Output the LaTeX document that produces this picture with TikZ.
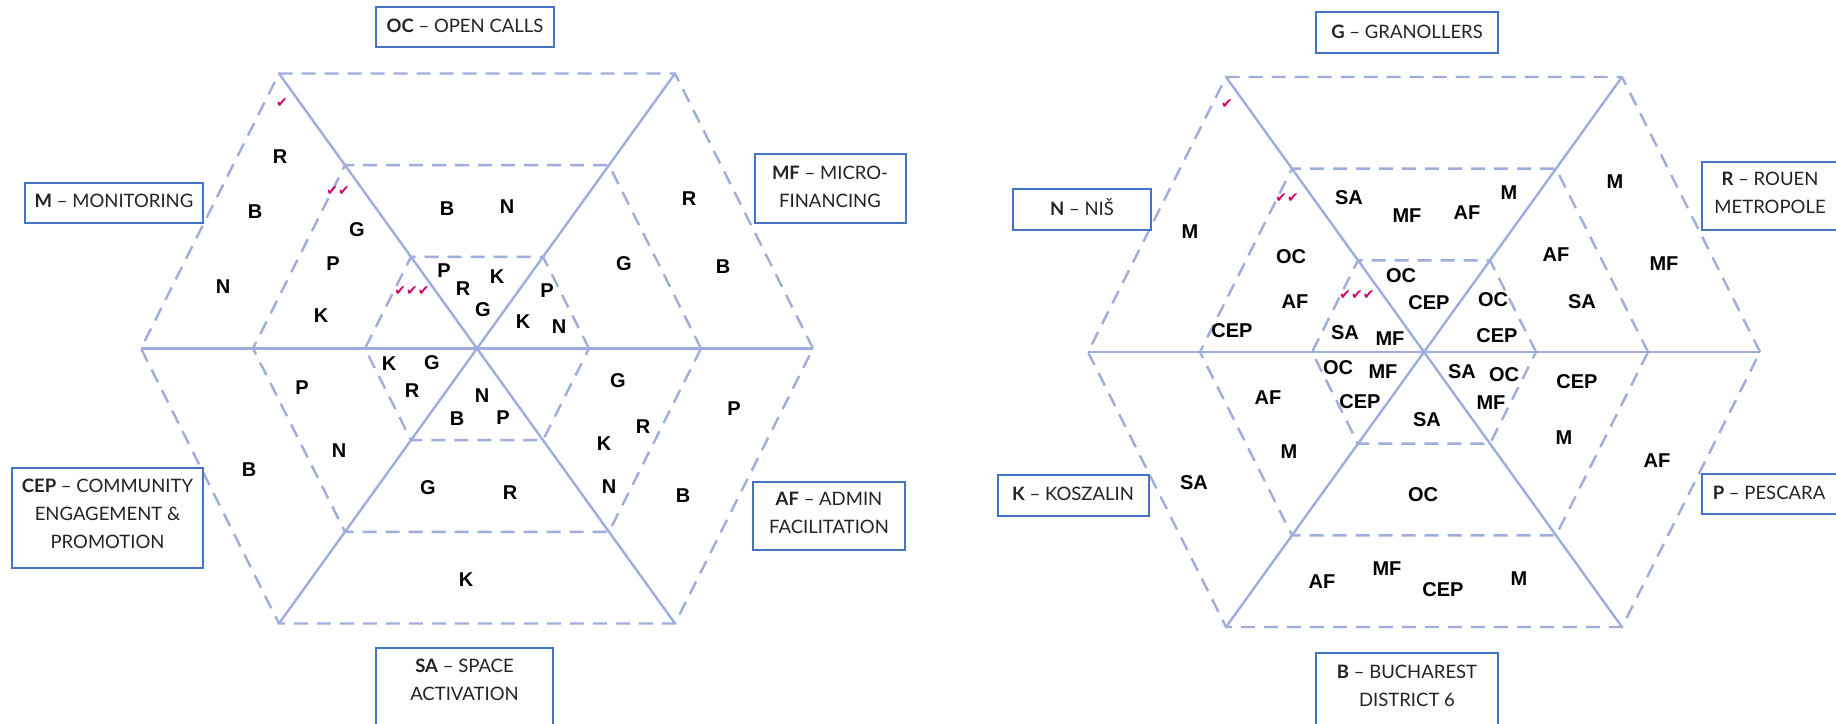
\documentclass[tikz,border=0pt]{standalone}
\usepackage{fontspec}
\setmainfont{Lato}
\newfontfamily\cellfont{Liberation Sans}
\newfontfamily\checkfont{DejaVu Sans}
\definecolor{hexline}{RGB}{160,172,220}
\definecolor{boxblue}{RGB}{68,114,196}
\definecolor{tickcol}{RGB}{204,0,110}
\definecolor{boxtext}{RGB}{35,35,35}
\newcommand\hexgrid[3]{%
  \begin{scope}[shift={(#1,#2)}]
    \coordinate (#3v0) at (336,0);
    \coordinate (#3v1) at (198,-275);
    \coordinate (#3v2) at (-198,-275);
    \coordinate (#3v3) at (-336,0);
    \coordinate (#3v4) at (-198,275);
    \coordinate (#3v5) at (198,275);
    \foreach \s in {1,0.66667,0.33333}{
      \draw[ring] (336*\s,0) -- (198*\s,-275*\s) -- (-198*\s,-275*\s) -- (-336*\s,0)
        -- (-198*\s,275*\s) -- (198*\s,275*\s) -- cycle;
    }
    \draw[spoke] (#3v0) -- (#3v3);
    \draw[spoke] (#3v1) -- (#3v4);
    \draw[spoke] (#3v2) -- (#3v5);
  \end{scope}}
\begin{document}
\begin{tikzpicture}[x=1pt,y=-1pt,
  spoke/.style={draw=hexline,line width=2.4pt},
  ring/.style={draw=hexline,line width=2.4pt,dash pattern=on 14pt off 9pt},
  boxframe/.style={draw=boxblue,line width=1.6pt,fill=white,inner sep=0pt,rectangle},
  boxtxt/.style={align=center,text=boxtext,font=\fontsize{18.5}{28}\selectfont,inner sep=0pt},
  cell/.style={font=\cellfont\bfseries\fontsize{20}{24}\selectfont,inner sep=0pt},
  ticks/.style={text=tickcol,font=\checkfont\fontsize{14}{14}\selectfont,inner sep=0pt}]
\useasboundingbox (0,0) rectangle (1836,723);

\hexgrid{477}{348.5}{L}
\hexgrid{1424}{352}{R}

% ---------- left diagram boxes ----------
\node[boxframe,minimum width=178pt,minimum height=40pt] (ocbox) at (465,27) {};
\node[boxtxt] (octxt) at (465,26) {\textbf{OC} – OPEN CALLS};
\node[boxframe,minimum width=178pt,minimum height=40pt] (mbox) at (114,203) {};
\node[boxtxt] (mtxt) at (114,201) {\textbf{M} – MONITORING};
\node[boxframe,minimum width=151pt,minimum height=69pt] (mfbox) at (830.5,188.5) {};
\node[boxtxt] (mftxt) at (830,187) {\textbf{MF} – MICRO-\\FINANCING};
\node[boxframe,minimum width=191pt,minimum height=100pt] (cepbox) at (107.5,518) {};
\node[boxtxt] (ceptxt) at (107.5,514) {\textbf{CEP} – COMMUNITY\\ENGAGEMENT \&\\PROMOTION};
\node[boxframe,minimum width=177pt,minimum height=87pt] (sabox) at (464.5,691.5) {};
\node[boxtxt] (satxt) at (464.5,680) {\textbf{SA} – SPACE\\ACTIVATION};
\node[boxframe,minimum width=152pt,minimum height=68pt] (afbox) at (829,516) {};
\node[boxtxt] (aftxt) at (829,512.5) {\textbf{AF} – ADMIN\\FACILITATION};

% ---------- right diagram boxes ----------
\node[boxframe,minimum width=182pt,minimum height=41pt] (gbox) at (1407,32.5) {};
\node[boxtxt] (gtxt) at (1407,32) {\textbf{G} – GRANOLLERS};
\node[boxframe,minimum width=138pt,minimum height=41pt] (nbox) at (1082,209.5) {};
\node[boxtxt] (ntxt) at (1082,207.5) {\textbf{N} – NIŠ};
\node[boxframe,minimum width=136pt,minimum height=68pt] (rbox) at (1770,196) {};
\node[boxtxt] (rtxt) at (1770,193) {\textbf{R} – ROUEN\\METROPOLE};
\node[boxframe,minimum width=151pt,minimum height=41pt] (kbox) at (1073.5,495.5) {};
\node[boxtxt] (ktxt) at (1073,493.5) {\textbf{K} – KOSZALIN};
\node[boxframe,minimum width=136pt,minimum height=40pt] (pbox) at (1770,494) {};
\node[boxtxt] (ptxt) at (1769,493) {\textbf{P} – PESCARA};
\node[boxframe,minimum width=182pt,minimum height=87pt] (bbox) at (1407,696.5) {};
\node[boxtxt] (btxt) at (1407,686) {\textbf{B} – BUCHAREST\\DISTRICT 6};

% ---------- check marks ----------
\node[ticks] (lt1) at (282,103) {✔};
\node[ticks] (lt2) at (338,191) {✔✔};
\node[ticks] (lt3) at (412,291) {✔✔✔};
\node[ticks] (rt1) at (1227,104) {✔};
\node[ticks] (rt2) at (1287,198) {✔✔};
\node[ticks] (rt3) at (1357,295) {✔✔✔};

% ---------- left cells ----------
\foreach \t/\x/\y [count=\i] in {R/280/157, B/255/212, N/223/287, G/357/230, P/333/264, K/321/316,
  B/447/209, N/507/207, P/444/271, R/463/289, K/497/277, G/483/310,
  P/547/291, K/523/322, N/559/327, G/624/264, R/689/199, B/723/267,
  K/389/364, G/432/363, R/412/391, P/302/388, N/339/451, B/249/470,
  G/428/488, N/482/396, B/457/419, P/503/418, R/510/493, K/466/580,
  G/618/381, R/643/427, K/604/444, N/609/487, B/683/496, P/734/409}
  \node[cell] (lc\i) at (\x,\y) {\t};

% ---------- right cells ----------
\foreach \t/\x/\y [count=\i] in {M/1190/232, OC/1291/257, AF/1295/302, CEP/1232/331, SA/1345/333, MF/1390/339,
  SA/1349/198, MF/1407/216, AF/1467/213, M/1509/193, OC/1401/276, CEP/1429/303,
  OC/1493/300, CEP/1497/336, AF/1556/255, SA/1582/302, M/1615/182, MF/1664/264,
  OC/1338/368, MF/1383/372, CEP/1360/402, AF/1268/398, M/1289/452, SA/1194/483,
  AF/1322/582, MF/1387/569, SA/1462/372, OC/1504/375, MF/1491/403, SA/1427/420,
  CEP/1577/382, M/1564/438, AF/1657/461, OC/1423/495, CEP/1443/590, M/1519/579}
  \node[cell] (rc\i) at (\x,\y) {\t};
\end{tikzpicture}
\end{document}
